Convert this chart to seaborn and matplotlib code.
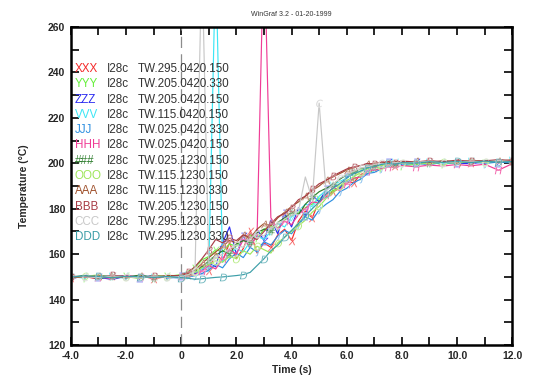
"""Thermocouple traces, WinGraf style, redrawn with seaborn"""

import matplotlib
matplotlib.use("Agg")
import matplotlib.pyplot as plt
import matplotlib.ticker as mticker
import numpy as np
import pandas as pd
import seaborn as sns

# time grid (s): coarse before and after the ramp, finer during it
time_s = [-4.0, -3.5, -3.0, -2.5, -2.0, -1.5, -1.0, -0.5,
          0.0, 0.25, 0.5, 0.75, 1.0, 1.25, 1.5, 1.75, 2.0, 2.25, 2.5, 2.75,
          3.0, 3.25, 3.5, 3.75, 4.0, 4.25, 4.5, 4.75, 5.0, 5.25, 5.5, 5.75,
          6.0, 6.25, 6.5, 6.75, 7.0, 7.25, 7.5, 7.75, 8.0,
          8.5, 9.0, 9.5, 10.0, 10.5, 11.0, 11.5, 12.0]

labels = ["XXX", "YYY", "ZZZ", "VVV", "JJJ", "HHH",
          "###", "OOO", "AAA", "BBB", "CCC", "DDD"]
sensor = ["I28c"] * 12
runs = ["TW.295.0420.150", "TW.205.0420.330", "TW.205.0420.150",
        "TW.115.0420.150", "TW.025.0420.330", "TW.025.0420.150",
        "TW.025.1230.150", "TW.115.1230.150", "TW.115.1230.330",
        "TW.205.1230.150", "TW.295.1230.150", "TW.295.1230.330"]
colors = ["#f42a2a", "#66f03c", "#2b2bf0", "#3ce6f5", "#2e8fe0", "#f03c96",
          "#2e7d2e", "#9ee65a", "#a0522d", "#a83c46", "#c8c8c8", "#3c9ea8"]
marker_chars = ["X", "Y", "Z", "V", "J", "H", r"\#", "O", "A", "B", "C", "D"]

t_xxx = [149.5, 150.2, 149.0, 150.6, 149.8, 150.4, 149.3, 150.1,
         150.0, 150.8, 151.2, 155.0, 152.5, 160.5, 157.0, 165.0, 158.0, 162.5,
         170.0, 160.5, 165.0, 163.0, 168.5, 171.0, 166.0, 174.5, 179.0, 176.0,
         183.5, 185.0, 187.5, 189.0, 192.0, 191.5, 195.0, 196.5, 198.0, 198.5,
         199.5, 199.0, 200.5,
         199.8, 200.6, 199.5, 200.8, 200.2, 201.0, 200.4, 201.2]
t_yyy = [150.3, 149.6, 150.8, 149.9, 150.5, 149.4, 150.7, 150.2,
         151.0, 152.5, 154.0, 157.5, 159.0, 162.0, 161.0, 164.5, 163.5, 166.0,
         168.5, 167.0, 171.0, 172.5, 171.5, 175.0, 177.0, 178.0, 180.5, 182.0,
         184.5, 186.0, 188.0, 189.5, 191.0, 193.0, 194.5, 195.5, 197.0, 198.0,
         198.5, 199.5, 199.0,
         199.5, 200.2, 199.7, 200.5, 200.9, 200.3, 201.0, 200.6]
t_zzz = [149.2, 150.5, 149.8, 148.9, 150.3, 149.7, 150.6, 149.5,
         150.2, 150.0, 151.5, 153.0, 156.0, 154.5, 165.0, 172.0, 160.0, 168.0,
         163.0, 171.0, 166.0, 175.0, 169.0, 178.0, 172.0, 180.5, 177.0, 186.0,
         183.0, 188.5, 191.0, 189.0, 194.0, 195.5, 197.0, 196.5, 199.0, 198.5,
         200.5, 199.5, 200.0,
         200.4, 199.6, 200.9, 200.1, 199.8, 200.7, 200.3, 200.9]
t_vvv = [150.1, 149.5, 150.7, 150.2, 149.4, 150.8, 149.9, 150.4,
         150.5, 151.0, 152.0, 153.5, 154.0, 290.0, 156.5, 160.0, 162.5, 161.0,
         165.5, 168.0, 166.5, 170.0, 173.5, 172.0, 176.5, 179.0, 182.0, 181.0,
         185.5, 188.0, 190.5, 192.0, 193.5, 196.0, 197.0, 198.5, 198.0, 199.5,
         200.0, 200.5, 199.5,
         200.2, 200.8, 199.9, 200.6, 201.1, 200.4, 200.9, 201.3]
t_jjj = [149.7, 150.4, 149.3, 150.0, 150.6, 149.5, 150.2, 149.8,
         149.5, 150.0, 150.5, 151.5, 153.0, 155.5, 154.0, 158.0, 160.5, 158.5,
         163.0, 161.0, 165.5, 164.0, 168.0, 170.5, 169.0, 173.0, 176.5, 175.0,
         179.5, 182.0, 184.0, 187.5, 189.0, 191.5, 193.0, 195.5, 196.0, 197.5,
         198.5, 199.0, 199.5,
         200.1, 199.4, 200.5, 200.0, 200.8, 199.9, 200.6, 200.2]
t_hhh = [150.4, 149.8, 150.1, 149.2, 150.7, 150.0, 149.6, 150.5,
         149.8, 150.3, 151.0, 152.5, 155.0, 153.5, 158.0, 162.0, 160.0, 166.5,
         163.5, 168.0, 300.0, 176.0, 171.0, 174.5, 173.0, 177.5, 180.0, 183.0,
         182.5, 186.0, 189.5, 188.0, 191.0, 193.5, 194.0, 196.5, 197.0, 197.5,
         198.5, 198.0, 199.0,
         198.5, 199.2, 198.8, 199.5, 198.9, 199.6, 197.0, 199.8]
t_hash = [150.0, 150.6, 149.4, 150.3, 149.9, 150.8, 149.7, 150.3,
          150.4, 151.2, 152.5, 154.5, 157.0, 159.5, 161.5, 160.0, 164.5, 166.0,
          165.0, 169.5, 171.0, 170.0, 174.0, 176.0, 178.5, 177.5, 182.0, 185.0,
          187.5, 189.0, 190.5, 193.0, 195.0, 196.0, 197.5, 198.5, 199.0, 200.0,
          200.5, 199.8, 200.6,
          200.8, 200.3, 201.0, 200.5, 201.2, 200.7, 201.4, 201.0]
t_ooo = [149.6, 150.2, 150.9, 149.5, 150.1, 149.3, 150.5, 149.9,
         150.3, 150.8, 152.0, 154.0, 155.5, 157.0, 156.5, 159.0, 158.0, 161.5,
         160.0, 163.5, 162.0, 160.5, 165.0, 167.5, 170.0, 172.5, 175.0, 178.5,
         181.0, 184.5, 187.0, 190.0, 192.5, 194.0, 196.0, 197.5, 198.5, 199.0,
         199.5, 200.5, 200.0,
         200.3, 199.8, 200.6, 200.1, 200.9, 200.4, 201.1, 200.7]
t_aaa = [150.2, 149.9, 150.5, 150.1, 149.6, 150.4, 150.0, 150.6,
         150.6, 151.5, 153.0, 156.0, 158.5, 161.0, 163.5, 166.0, 165.0, 168.5,
         167.0, 171.0, 173.5, 172.5, 176.0, 178.5, 181.0, 183.0, 185.5, 188.0,
         190.0, 192.5, 194.0, 195.5, 197.0, 198.0, 199.0, 199.5, 200.0, 200.5,
         200.0, 200.8, 200.3,
         200.9, 200.4, 201.1, 200.6, 201.3, 200.8, 201.0, 201.5]
t_bbb = [149.8, 150.3, 149.6, 150.7, 150.2, 149.9, 150.4, 150.0,
         150.8, 152.0, 154.5, 158.0, 162.0, 166.5, 165.0, 167.0, 166.0, 168.5,
         167.5, 166.5, 170.0, 173.5, 176.5, 178.0, 180.5, 184.0, 185.5, 188.5,
         191.0, 192.5, 194.5, 196.0, 197.5, 198.5, 199.0, 200.0, 199.5, 200.5,
         200.8, 200.2, 201.0,
         200.6, 201.2, 200.7, 201.4, 200.9, 201.1, 201.6, 201.2]
t_ccc = [150.5, 150.0, 149.7, 150.4, 150.0, 149.6, 150.3, 149.9,
         150.2, 151.0, 152.5, 290.0, 156.0, 158.5, 160.0, 162.5, 164.0, 163.0,
         167.0, 169.0, 168.0, 171.5, 173.0, 175.5, 177.0, 179.0, 194.0, 184.0,
         226.5, 188.0, 190.5, 193.5, 195.0, 196.5, 198.0, 198.5, 199.5, 200.0,
         199.7, 200.4, 200.1,
         200.5, 200.9, 200.2, 200.7, 201.0, 200.6, 201.2, 200.8]
t_ddd = [149.9, 150.5, 150.2, 149.6, 150.3, 150.1, 149.8, 150.2,
         149.7, 149.4, 149.0, 149.2, 149.5, 149.8, 150.0, 150.3, 150.6, 151.0,
         152.0, 155.0, 158.0, 161.5, 164.0, 167.5, 170.5, 173.5, 177.0, 180.0,
         183.0, 186.5, 189.0, 191.0, 193.5, 195.5, 196.5, 198.0, 198.5, 199.5,
         200.0, 199.6, 200.3,
         200.1, 200.7, 200.4, 200.9, 200.3, 201.0, 200.5, 200.8]

series = [t_xxx, t_yyy, t_zzz, t_vvv, t_jjj, t_hhh,
          t_hash, t_ooo, t_aaa, t_bbb, t_ccc, t_ddd]

sns.set_style("ticks")
plt.rcParams["font.family"] = ["Liberation Sans", "DejaVu Sans"]

fig = plt.figure(figsize=(5.33, 3.83), dpi=100)
ax = fig.add_axes([0.133, 0.099, 0.828, 0.8305])

ax.axvline(0, color="#8c8c8c", lw=0.9, dashes=(9, 5), zorder=1)

for i, (lab, vals) in enumerate(zip(labels, series)):
    df = pd.DataFrame({"time": time_s, "temp": vals})
    sns.lineplot(
        data=df, x="time", y="temp", ax=ax, color=colors[i],
        estimator=None, sort=False, lw=0.85,
        marker=f"${marker_chars[i]}$", markersize=5.5, markeredgewidth=0.2,
        markevery=slice(i % 3, None, 3), zorder=2,
    )

# legend written as text rows, like the original plot
for i in range(len(labels)):
    y = 0.868 - i * 0.0481
    ax.text(0.009, y, labels[i], color=colors[i], fontsize=8.4,
            transform=ax.transAxes, va="center")
    ax.text(0.082, y, sensor[i], color="#333333", fontsize=8.4,
            transform=ax.transAxes, va="center")
    ax.text(0.152, y, runs[i], color="#333333", fontsize=8.4,
            transform=ax.transAxes, va="center")

ax.set_xlim(-4, 12)
ax.set_ylim(120, 260)
ax.xaxis.set_major_locator(mticker.MultipleLocator(2))
ax.xaxis.set_minor_locator(mticker.MultipleLocator(1))
ax.yaxis.set_major_locator(mticker.MultipleLocator(20))
ax.yaxis.set_minor_locator(mticker.MultipleLocator(10))
ax.xaxis.set_major_formatter(
    mticker.FuncFormatter(lambda v, p: "0" if abs(v) < 1e-9 else f"{v:.1f}"))
ax.tick_params(which="both", direction="in", length=5.5, width=1.4,
               top=True, right=True, labelsize=7.5, pad=4)
for lbl in ax.get_xticklabels() + ax.get_yticklabels():
    lbl.set_fontweight("bold")
for sp in ax.spines.values():
    sp.set_linewidth(1.8)
    sp.set_color("black")

ax.set_xlabel("Time (s)", fontsize=7.5, fontweight="bold", labelpad=3)
ax.set_ylabel("Temperature (°C)", fontsize=7.5, fontweight="bold", labelpad=14)
fig.text(0.547, 0.962, "WinGraf 3.2 - 01-20-1999", fontsize=5,
         color="#333333", ha="center", va="center")

fig.savefig("out.png", dpi=100)
plt.close(fig)
